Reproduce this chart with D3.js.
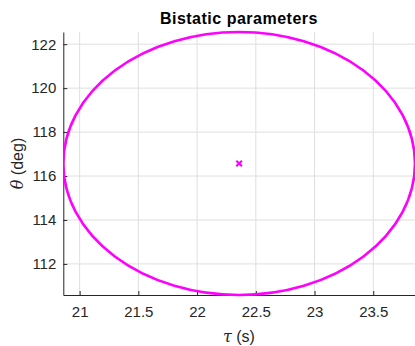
<!DOCTYPE html>
<html>
<head>
<meta charset="utf-8">
<script src="https://cdn.jsdelivr.net/npm/d3@7"></script>
<style>
  body { margin: 0; background: #fff; }
  text { font-family: "Liberation Sans", Arial, sans-serif; }
</style>
</head>
<body>
<svg id="chart" width="415" height="346"></svg>
<script>
// ellipse: centre and half-widths (tau in s, theta in deg)
var centre = [22.358, 116.57];
var halfAxes = [1.497, 5.985];
var marker = [22.358, 116.57];
var xTicks = [21, 21.5, 22, 22.5, 23, 23.5];
var yTicks = [112, 114, 116, 118, 120, 122];
var xDomain = [20.861, 23.851];
var yDomain = [110.585, 122.555];

var M = {l: 63.3, r: 414.5, t: 32, b: 295};
var svg = d3.select("#chart");

var x = d3.scaleLinear().domain(xDomain).range([M.l, M.r]);
var y = d3.scaleLinear().domain(yDomain).range([M.b, M.t]);

// grid
var grid = svg.append("g").attr("stroke", "#dfdfdf").attr("stroke-width", 1);
grid.selectAll("line.gx").data(xTicks).enter().append("line")
  .attr("x1", function (d) { return x(d) }).attr("x2", function (d) { return x(d) })
  .attr("y1", M.t).attr("y2", M.b);
grid.selectAll("line.gy").data(yTicks).enter().append("line")
  .attr("y1", function (d) { return y(d) }).attr("y2", function (d) { return y(d) })
  .attr("x1", M.l).attr("x2", 415);

// axes (ticks point inward, like matlab)
var xAxis = d3.axisBottom(x).tickValues(xTicks).tickSizeInner(-4).tickSizeOuter(0).tickPadding(11)
  .tickFormat(function (d) { return d });
var yAxis = d3.axisLeft(y).tickValues(yTicks).tickSizeInner(-4).tickSizeOuter(0).tickPadding(7);

var gx = svg.append("g").attr("transform", "translate(0," + M.b + ")").call(xAxis);
var gy = svg.append("g").attr("transform", "translate(" + M.l + ",0)").call(yAxis);
[gx, gy].forEach(function (g) {
  g.select(".domain").attr("stroke", "#262626").attr("stroke-width", 1);
  g.selectAll(".tick line").attr("stroke", "#262626");
  g.selectAll(".tick text").attr("fill", "#262626").style("font-size", "15px")
    .style("font-family", "'Liberation Sans', Arial, sans-serif");
});

// ellipse
svg.append("defs").append("clipPath").attr("id", "clip").append("rect")
  .attr("x", M.l).attr("y", M.t - 2).attr("width", 415 - M.l).attr("height", M.b - M.t + 4);
svg.append("ellipse")
  .attr("clip-path", "url(#clip)")
  .attr("cx", x(centre[0])).attr("cy", y(centre[1]))
  .attr("rx", x(centre[0] + halfAxes[0]) - x(centre[0]))
  .attr("ry", y(centre[1]) - y(centre[1] + halfAxes[1]))
  .attr("fill", "none").attr("stroke", "#ff00ff").attr("stroke-width", 2.6);

// centre marker
var mx = x(marker[0]), my = y(marker[1]), s = 2.8;
svg.append("path")
  .attr("d", "M" + (mx - s) + "," + (my - s) + "L" + (mx + s) + "," + (my + s) +
             "M" + (mx - s) + "," + (my + s) + "L" + (mx + s) + "," + (my - s))
  .attr("stroke", "#ff00ff").attr("stroke-width", 2.2);

// titles
svg.append("text").attr("x", (M.l + M.r) / 2).attr("y", 24)
  .attr("text-anchor", "middle").style("font-size", "16px").style("font-weight", "bold")
  .style("letter-spacing", "0.5px").attr("fill", "#000").text("Bistatic parameters");

var xl = svg.append("text").attr("x", (M.l + M.r) / 2).attr("y", 342)
  .attr("text-anchor", "middle").style("font-size", "16px").attr("fill", "#262626");
xl.append("tspan").style("font-style", "italic").style("font-family", "'DejaVu Serif', 'Liberation Serif', serif").text("τ");
xl.append("tspan").text(" (s)");

var yl = svg.append("text").attr("transform", "translate(23," + (M.t + M.b) / 2 + ") rotate(-90)")
  .attr("text-anchor", "middle").style("font-size", "16px").attr("fill", "#262626");
yl.append("tspan").style("font-style", "italic").style("font-family", "'DejaVu Serif', 'Liberation Serif', serif").text("θ");
yl.append("tspan").text(" (deg)");
</script>
</body>
</html>
